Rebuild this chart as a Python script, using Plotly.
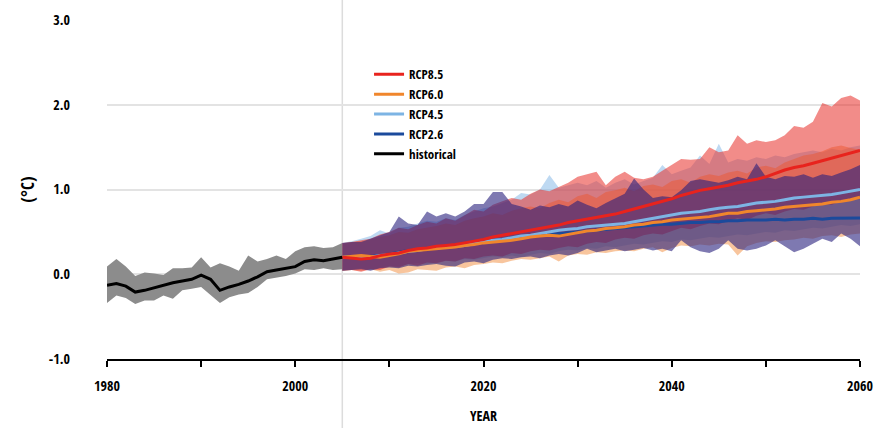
import plotly.graph_objects as go

# ---------------- data ----------------
hist_years = list(range(1980, 2006))
hist_mean = [-0.13, -0.11, -0.14, -0.21, -0.19, -0.16, -0.13, -0.10, -0.08, -0.06,
             -0.01, -0.06, -0.19, -0.15, -0.12, -0.08, -0.03, 0.03, 0.05, 0.07,
             0.09, 0.15, 0.17, 0.16, 0.18, 0.20]
hist_hi = [0.09, 0.18, 0.09, -0.02, 0.02, 0.01, -0.01, 0.07, 0.07, 0.08,
           0.20, 0.08, 0.13, 0.09, 0.04, 0.22, 0.15, 0.18, 0.22, 0.18,
           0.27, 0.32, 0.33, 0.31, 0.32, 0.37]
hist_lo = [-0.34, -0.25, -0.28, -0.35, -0.31, -0.31, -0.25, -0.29, -0.19, -0.17,
           -0.15, -0.25, -0.34, -0.27, -0.24, -0.22, -0.15, -0.06, -0.04, -0.02,
           0.01, 0.06, 0.05, 0.07, 0.05, 0.06]

proj_years = list(range(2005, 2061))

rcp85_mean = [0.20, 0.19, 0.18, 0.19, 0.22, 0.24, 0.25, 0.28, 0.30, 0.31,
              0.33, 0.34, 0.35, 0.37, 0.39, 0.41, 0.44, 0.46, 0.48, 0.50,
              0.52, 0.54, 0.56, 0.58, 0.61, 0.63, 0.65, 0.67, 0.69, 0.71,
              0.74, 0.77, 0.80, 0.83, 0.86, 0.89, 0.93, 0.96, 0.99, 1.01,
              1.03, 1.05, 1.08, 1.10, 1.12, 1.15, 1.19, 1.23, 1.26, 1.28,
              1.31, 1.34, 1.37, 1.40, 1.43, 1.46]
rcp85_hi = [0.37, 0.38, 0.40, 0.42, 0.47, 0.50, 0.55, 0.53, 0.58, 0.62,
            0.60, 0.66, 0.63, 0.70, 0.76, 0.74, 0.82, 0.86, 0.90, 0.88,
            0.95, 1.00, 0.98, 1.03, 1.08, 1.15, 1.18, 1.21, 1.05, 1.15,
            1.21, 1.14, 1.12, 1.15, 1.22, 1.29, 1.36, 1.35, 1.36, 1.50,
            1.44, 1.46, 1.64, 1.54, 1.58, 1.56, 1.58, 1.64, 1.75, 1.73,
            1.80, 2.02, 1.98, 2.08, 2.11, 2.05]
rcp85_lo = [0.04, 0.05, 0.03, 0.06, 0.05, 0.09, 0.08, 0.12, 0.10, 0.14,
            0.13, 0.16, 0.15, 0.19, 0.18, 0.21, 0.22, 0.21, 0.25, 0.24,
            0.27, 0.29, 0.28, 0.31, 0.33, 0.32, 0.36, 0.38, 0.37, 0.41,
            0.43, 0.42, 0.46, 0.48, 0.47, 0.51, 0.55, 0.53, 0.57, 0.60,
            0.59, 0.63, 0.66, 0.64, 0.69, 0.72, 0.70, 0.74, 0.77, 0.76,
            0.80, 0.83, 0.82, 0.86, 0.89, 0.91]

rcp60_mean = [0.20, 0.21, 0.22, 0.21, 0.20, 0.22, 0.24, 0.27, 0.28, 0.29,
              0.30, 0.31, 0.32, 0.34, 0.35, 0.37, 0.38, 0.39, 0.40, 0.42,
              0.44, 0.45, 0.46, 0.45, 0.47, 0.49, 0.51, 0.52, 0.54, 0.55,
              0.56, 0.58, 0.59, 0.61, 0.62, 0.64, 0.65, 0.66, 0.67, 0.68,
              0.70, 0.72, 0.72, 0.74, 0.75, 0.76, 0.77, 0.79, 0.80, 0.81,
              0.82, 0.83, 0.85, 0.86, 0.88, 0.91]
rcp60_hi = [0.36, 0.38, 0.39, 0.41, 0.44, 0.46, 0.50, 0.49, 0.53, 0.55,
            0.57, 0.60, 0.58, 0.63, 0.66, 0.68, 0.72, 0.70, 0.75, 0.78,
            0.80, 0.78, 0.84, 0.88, 0.85, 0.92, 0.95, 0.90, 0.97, 0.99,
            1.02, 0.98, 1.04, 1.06, 1.03, 1.10, 1.12, 1.08, 1.15, 1.18,
            1.16, 1.20, 1.22, 1.19, 1.26, 1.28, 1.25, 1.32, 1.36, 1.40,
            1.42, 1.45, 1.50, 1.52, 1.49, 1.47]
rcp60_lo = [0.04, 0.05, 0.04, 0.06, 0.03, 0.05, 0.01, 0.02, 0.06, 0.05,
            0.04, 0.08, 0.09, 0.07, 0.11, 0.12, 0.14, 0.13, 0.16, 0.18,
            0.17, 0.19, 0.21, 0.15, 0.22, 0.24, 0.23, 0.26, 0.25, 0.27,
            0.28, 0.27, 0.30, 0.32, 0.26, 0.31, 0.34, 0.33, 0.35, 0.34,
            0.36, 0.35, 0.22, 0.33, 0.37, 0.39, 0.38, 0.40, 0.41, 0.43,
            0.42, 0.45, 0.46, 0.44, 0.47, 0.48]

rcp45_mean = [0.20, 0.20, 0.21, 0.20, 0.22, 0.23, 0.25, 0.27, 0.28, 0.30,
              0.31, 0.32, 0.33, 0.34, 0.36, 0.38, 0.40, 0.41, 0.43, 0.45,
              0.46, 0.48, 0.50, 0.52, 0.53, 0.54, 0.56, 0.57, 0.58, 0.59,
              0.60, 0.62, 0.64, 0.66, 0.68, 0.70, 0.72, 0.73, 0.74, 0.76,
              0.78, 0.79, 0.80, 0.82, 0.84, 0.85, 0.86, 0.88, 0.90, 0.91,
              0.92, 0.93, 0.94, 0.96, 0.98, 1.00]
rcp45_hi = [0.37, 0.39, 0.42, 0.45, 0.52, 0.48, 0.55, 0.56, 0.60, 0.63,
            0.62, 0.66, 0.64, 0.70, 0.74, 0.78, 0.80, 0.84, 0.88, 0.96,
            0.94, 1.00, 1.17, 1.02, 1.05, 1.08, 1.05, 1.10, 1.02, 1.08,
            1.12, 1.06, 1.10, 1.14, 1.29, 1.18, 1.22, 1.26, 1.40, 1.30,
            1.54, 1.32, 1.36, 1.34, 1.38, 1.36, 1.40, 1.38, 1.42, 1.44,
            1.46, 1.44, 1.48, 1.46, 1.50, 1.52]
rcp45_lo = [0.04, 0.06, 0.07, 0.05, 0.08, 0.10, 0.09, 0.12, 0.13, 0.12,
            0.14, 0.16, 0.15, 0.18, 0.17, 0.19, 0.21, 0.20, 0.22, 0.20,
            0.23, 0.25, 0.24, 0.27, 0.29, 0.28, 0.31, 0.30, 0.33, 0.32,
            0.34, 0.36, 0.35, 0.37, 0.39, 0.38, 0.41, 0.40, 0.42, 0.44,
            0.43, 0.45, 0.47, 0.46, 0.48, 0.50, 0.49, 0.52, 0.51, 0.53,
            0.55, 0.54, 0.56, 0.58, 0.57, 0.59]

rcp26_mean = [0.20, 0.20, 0.21, 0.21, 0.22, 0.24, 0.26, 0.28, 0.29, 0.30,
              0.31, 0.32, 0.33, 0.35, 0.37, 0.38, 0.40, 0.41, 0.42, 0.44,
              0.45, 0.46, 0.47, 0.48, 0.49, 0.50, 0.51, 0.52, 0.53, 0.54,
              0.55, 0.56, 0.57, 0.58, 0.59, 0.59, 0.60, 0.61, 0.61, 0.62,
              0.62, 0.63, 0.63, 0.64, 0.64, 0.64, 0.65, 0.64, 0.65, 0.65,
              0.66, 0.65, 0.66, 0.66, 0.66, 0.665]
rcp26_hi = [0.37, 0.38, 0.38, 0.42, 0.46, 0.50, 0.68, 0.60, 0.58, 0.74,
            0.68, 0.72, 0.68, 0.74, 0.83, 0.83, 0.97, 0.97, 0.83, 0.80,
            0.76, 0.81, 0.79, 0.83, 0.80, 0.87, 0.82, 0.78, 0.84, 0.90,
            0.95, 1.13, 1.00, 0.90, 0.92, 0.91, 0.99, 1.10, 1.12, 1.10,
            1.08, 1.11, 1.15, 1.12, 1.31, 1.15, 1.12, 1.16, 1.15, 1.18,
            1.14, 1.18, 1.16, 1.20, 1.24, 1.29]
rcp26_lo = [0.04, 0.05, 0.06, 0.04, 0.07, 0.08, 0.07, 0.10, 0.09, 0.11,
            0.12, 0.10, 0.09, 0.14, 0.15, 0.13, 0.17, 0.19, 0.18, 0.20,
            0.21, 0.19, 0.22, 0.24, 0.22, 0.25, 0.30, 0.26, 0.28, 0.30,
            0.27, 0.29, 0.31, 0.28, 0.30, 0.27, 0.40, 0.32, 0.27, 0.25,
            0.30, 0.40, 0.30, 0.28, 0.30, 0.34, 0.40, 0.33, 0.26, 0.30,
            0.36, 0.42, 0.38, 0.48, 0.42, 0.33]

x_ticks = [1980, 1990, 2000, 2010, 2020, 2030, 2040, 2050, 2060]
x_ticktext = ["1980", "", "2000", "", "2020", "", "2040", "", "2060"]
y_ticks = [-1, 0, 1, 2, 3]
y_ticktext = ["-1.0", "0.0", "1.0", "2.0", "3.0"]

FONT = "Open Sans Condensed, Roboto Condensed, sans-serif"

fig = go.Figure()


def band(years, lo, hi, color):
    fig.add_trace(go.Scatter(
        x=list(years) + list(years)[::-1],
        y=list(hi) + list(lo)[::-1],
        fill="toself", fillcolor=color, mode="lines",
        line=dict(width=0, color=color), showlegend=False, hoverinfo="skip"))


# historical band
band(hist_years, hist_lo, hist_hi, "rgb(140,140,140)")
# projection bands
band(proj_years, rcp45_lo, rcp45_hi, "rgba(125,180,230,0.5)")
band(proj_years, rcp60_lo, rcp60_hi, "rgba(242,140,60,0.5)")
band(proj_years, rcp85_lo, rcp85_hi, "rgba(232,45,40,0.55)")
band(proj_years, rcp26_lo, rcp26_hi, "rgba(40,32,125,0.6)")

lines = [
    ("RCP2.6", rcp26_mean, "#1b4a9c", 4),
    ("RCP4.5", rcp45_mean, "#7db4e4", 3),
    ("RCP6.0", rcp60_mean, "#f0862c", 2),
    ("RCP8.5", rcp85_mean, "#e8231d", 1),
]
for name, vals, col, rank in lines:
    fig.add_trace(go.Scatter(x=proj_years, y=vals, mode="lines", name=name,
                             line=dict(color=col, width=3), legendrank=rank))
fig.add_trace(go.Scatter(x=hist_years, y=hist_mean, mode="lines", name="historical",
                         line=dict(color="black", width=3), legendrank=5))

fig.add_shape(type="line", x0=2005, x1=2005, xref="x", y0=-1, y1=1.06, yref="y domain",
              line=dict(color="#dcdcdc", width=1.5), layer="below")

fig.update_layout(
    width=874, height=428,
    margin=dict(l=107, r=14, t=20, b=69, autoexpand=False),
    paper_bgcolor="white", plot_bgcolor="white",
    font=dict(family=FONT, size=14, color="black", weight="bold"),
    showlegend=True,
    legend=dict(x=0.348, y=0.884, xanchor="left", yanchor="top",
                bgcolor="rgba(0,0,0,0)", itemwidth=30, tracegroupgap=0,
                font=dict(family=FONT, size=13, color="black", weight="bold")),
    xaxis=dict(range=[1980, 2060], tickmode="array", tickvals=x_ticks, ticktext=x_ticktext,
               showgrid=False, zeroline=False, showline=True, linecolor="black", linewidth=1.5,
               ticks="outside", ticklen=6, tickwidth=1.5, tickcolor="black",
               ticklabelstandoff=7, automargin=False,
               title=dict(text="YEAR", font=dict(size=14), standoff=18)),
    yaxis=dict(range=[-1, 3], tickmode="array", tickvals=y_ticks, ticktext=y_ticktext,
               showgrid=True, gridcolor="#e3e3e3", gridwidth=1.5, zeroline=False,
               showline=False, ticks="", ticklabelstandoff=36, automargin=False,
               title=dict(text="(°C)", font=dict(size=17), standoff=9)),
)

fig.write_html("out.html")
